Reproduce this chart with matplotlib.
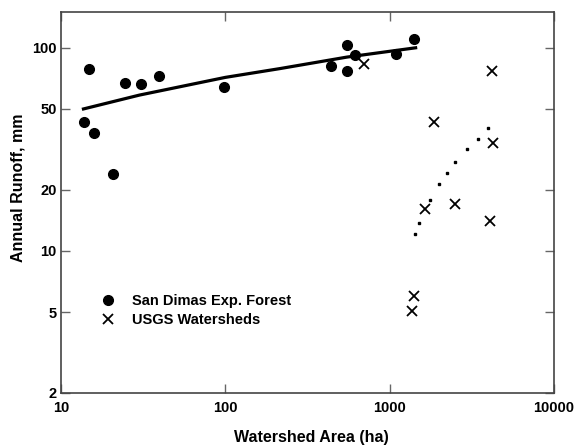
import matplotlib
matplotlib.use("Agg")
import matplotlib.pyplot as plt
from matplotlib.ticker import FixedLocator, FixedFormatter, NullLocator

plt.rcParams['font.family'] = ['Liberation Sans', 'DejaVu Sans']
plt.rcParams['font.weight'] = 'bold'

# San Dimas Experimental Forest watersheds
sd_area = [13.9, 14.8, 15.9, 20.8, 24.6, 30.5, 39.7, 98.6, 438, 550, 550, 618, 1090, 1400]
sd_runoff = [43.3, 79, 38, 24, 67.3, 66, 72.3, 64, 81, 103.5, 77, 92.4, 92.8, 110.7]

# USGS gauged watersheds
usgs_area = [700, 4200, 1850, 4250, 1640, 2500, 4100, 1400, 1360]
usgs_runoff = [83, 77, 43, 34, 16, 17, 14, 6.0, 5.05]

# fitted trend through San Dimas data (solid)
sd_fit_area = [13.7, 30, 100, 215, 550, 1440]
sd_fit_runoff = [50, 58.5, 71.5, 79, 90, 100]

# fitted trend through USGS data (dotted)
usgs_fit_area = [1422, 1517, 1762, 2008, 2235, 2500, 2971, 3451, 3988]
usgs_fit_runoff = [12.1, 13.8, 17.8, 21.3, 24.1, 27.5, 31.6, 35.7, 40.3]

xticks = [10, 100, 1000, 10000]
yticks = [2, 5, 10, 20, 50, 100]

fig = plt.figure(figsize=(5.77, 4.45), dpi=100)
ax = fig.add_axes([0.1057, 0.1169, 0.8543, 0.8561])

ax.plot(sd_fit_area, sd_fit_runoff, color='black', linewidth=2.3, zorder=2)
ax.plot(usgs_fit_area, usgs_fit_runoff, linestyle='none', marker='s',
        markersize=1.8, color='black', zorder=2)
ax.plot(sd_area, sd_runoff, linestyle='none', marker='o', markersize=7,
        color='black', label='San Dimas Exp. Forest', zorder=3)
ax.plot(usgs_area, usgs_runoff, linestyle='none', marker='x', markersize=6.5,
        markeredgewidth=1.3, color='black', label='USGS Watersheds', zorder=3)

ax.set_xscale('log')
ax.set_yscale('log')
ax.set_xlim(10, 10000)
ax.set_ylim(2, 150)

ax.xaxis.set_major_locator(FixedLocator(xticks))
ax.xaxis.set_major_formatter(FixedFormatter([str(v) for v in xticks]))
ax.yaxis.set_major_locator(FixedLocator(yticks))
ax.yaxis.set_major_formatter(FixedFormatter([str(v) for v in yticks]))
ax.xaxis.set_minor_locator(NullLocator())
ax.yaxis.set_minor_locator(NullLocator())

ax.tick_params(which='major', direction='in', length=6.5, width=1.0,
               color='#666666', labelsize=10.5, top=True, right=True)
ax.tick_params(axis='x', pad=5.5)
ax.tick_params(axis='y', pad=3)
for lab in ax.get_xticklabels() + ax.get_yticklabels():
    lab.set_fontweight('bold')

for sp in ax.spines.values():
    sp.set_color('#444444')
    sp.set_linewidth(1.2)

ax.set_xlabel('Watershed Area (ha)', fontsize=11.5, fontweight='bold')
ax.set_ylabel('Annual Runoff, mm', fontsize=11.5, fontweight='bold')
ax.xaxis.set_label_coords(0.507, -0.098)
ax.yaxis.set_label_coords(-0.071, 0.54)

ax.legend(loc='upper left', bbox_to_anchor=(0.081, 0.259), frameon=False,
          prop={'weight': 'bold', 'size': 10.5}, handlelength=1.0,
          handletextpad=1.1, labelspacing=0.3, borderaxespad=0,
          borderpad=0)

fig.savefig('out.png', dpi=100)
